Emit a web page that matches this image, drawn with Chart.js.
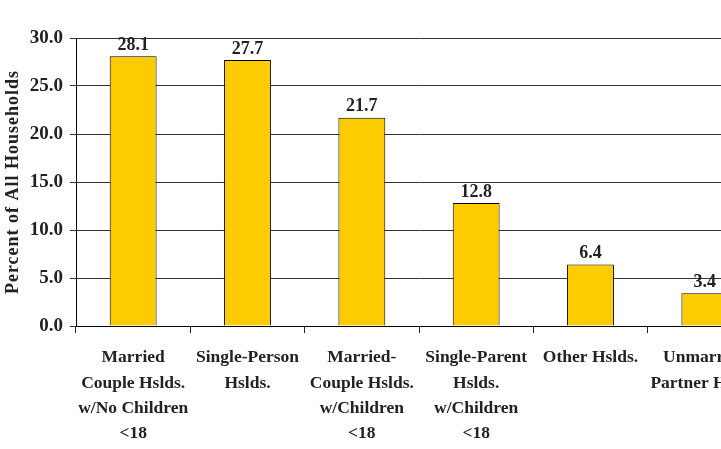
<!DOCTYPE html>
<html>
<head>
<meta charset="utf-8">
<script src="https://cdn.jsdelivr.net/npm/chart.js@4/dist/chart.umd.min.js"></script>
<style>
  html, body { margin: 0; padding: 0; background: #fff; overflow: hidden; }
  #wrap { width: 780px; height: 449px; }
</style>
</head>
<body>
<div id="wrap"><canvas id="hhChart"></canvas></div>
<script>
const categories = [
    ['Married', 'Couple Hslds.', 'w/No Children', '<18'],
    ['Single-Person', 'Hslds.'],
    ['Married-', 'Couple Hslds.', 'w/Children', '<18'],
    ['Single-Parent', 'Hslds.', 'w/Children', '<18'],
    ['Other Hslds.'],
    ['Unmarried', 'Partner Hslds.']
];
const percents = [28.1, 27.7, 21.7, 12.8, 6.4, 3.4];
const yTicks = [0, 5, 10, 15, 20, 25, 30];
const yTitle = 'Percent of All Households';

const serif = '"Liberation Serif", "Times New Roman", serif';

// values above the bars + the spaced-out y title
const extras = {
    id: 'extras',
    afterDatasetsDraw(chart) {
        const ctx = chart.ctx;
        const meta = chart.getDatasetMeta(0);
        ctx.save();
        ctx.font = 'bold 18px ' + serif;
        ctx.fillStyle = '#222';
        ctx.textAlign = 'center';
        ctx.textBaseline = 'bottom';
        meta.data.forEach((bar, i) => {
            ctx.fillText(percents[i].toFixed(1), bar.x, bar.y - 2);
        });

        const area = chart.chartArea;
        ctx.translate(13, (area.top + area.bottom) / 2);
        ctx.rotate(-Math.PI / 2);
        ctx.font = 'bold 18px ' + serif;
        ctx.letterSpacing = '1px';
        ctx.textBaseline = 'middle';
        ctx.fillText(yTitle, 0, 0);
        ctx.restore();
    }
};

new Chart(document.getElementById('hhChart'), {
    type: 'bar',
    data: {
        labels: categories,
        datasets: [{
            data: percents,
            backgroundColor: '#FCCB00',
            borderColor: '#000',
            borderWidth: 1,
            categoryPercentage: 0.82,
            barPercentage: 0.5
        }]
    },
    options: {
        responsive: true,
        maintainAspectRatio: false,
        animation: false,
        layout: { padding: { top: 38, right: 18, left: 0, bottom: 0 } },
        plugins: {
            legend: { display: false },
            tooltip: { enabled: false }
        },
        scales: {
            x: {
                offset: true,
                grid: {
                    offset: true,
                    drawOnChartArea: false,
                    drawTicks: true,
                    tickLength: 7,
                    color: '#222'
                },
                border: { color: '#000', width: 1 },
                ticks: {
                    color: '#222',
                    font: { family: serif, weight: 'bold', size: 17.5, lineHeight: 1.45 },
                    padding: 12,
                    maxRotation: 0,
                    autoSkip: false
                },
                afterFit: s => { s.height = 123; }
            },
            y: {
                min: 0,
                max: 30,
                afterBuildTicks: s => { s.ticks = yTicks.map(v => ({ value: v })); },
                grid: {
                    color: '#333',
                    lineWidth: 1,
                    drawTicks: true,
                    tickLength: 6
                },
                border: { color: '#000', width: 1 },
                ticks: {
                    color: '#222',
                    font: { family: serif, weight: 'bold', size: 19 },
                    padding: 7,
                    callback: v => v.toFixed(1)
                },
                afterFit: s => { s.width = 76; }
            }
        }
    },
    plugins: [extras]
});
</script>
</body>
</html>
